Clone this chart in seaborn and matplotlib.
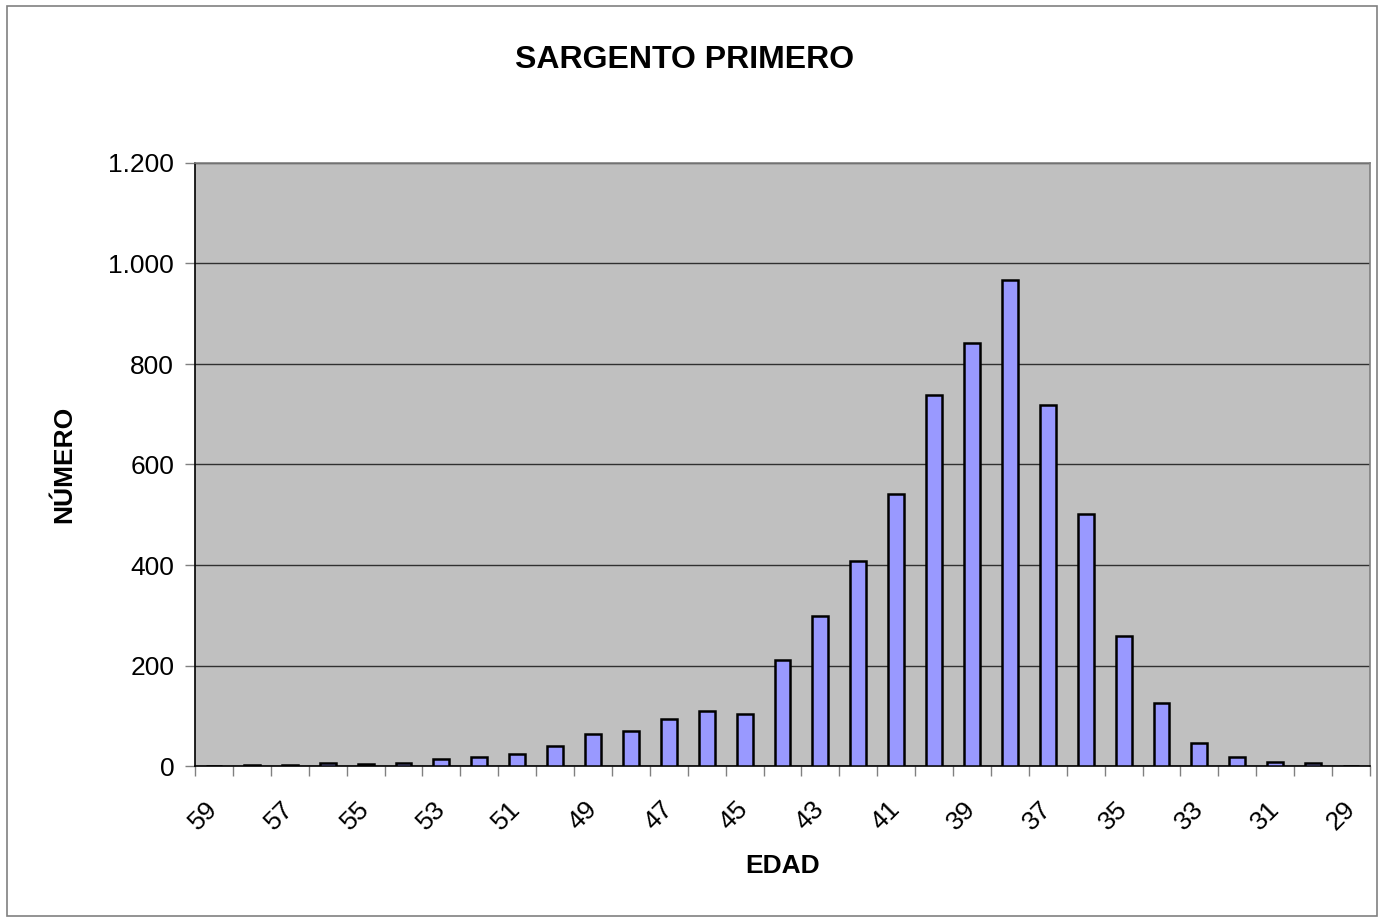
import matplotlib
matplotlib.use("Agg")
import matplotlib.pyplot as plt
import matplotlib.patches as mpatches
from matplotlib.ticker import FuncFormatter, FixedLocator
import seaborn as sns
import pandas as pd

ages = list(range(59, 28, -1))
counts = [0, 2, 2, 6, 3, 5, 14, 18, 24, 40, 64, 70, 94, 109, 103, 211,
          298, 408, 541, 738, 842, 967, 718, 501, 259, 125, 46, 18, 8, 6, 0]
title = "SARGENTO PRIMERO"
xlabel = "EDAD"
ylabel = "NÚMERO"
yticks = [0, 200, 400, 600, 800, 1000, 1200]

df = pd.DataFrame({"edad": [str(a) for a in ages], "numero": counts})

sns.set_style("white")
plt.rcParams['font.family'] = ['Liberation Sans', 'DejaVu Sans']
plt.rcParams['text.color'] = 'black'
plt.rcParams['axes.labelcolor'] = 'black'
plt.rcParams['xtick.color'] = 'black'
plt.rcParams['ytick.color'] = 'black'

fig = plt.figure(figsize=(13.81, 9.21), dpi=100)
ax = fig.add_axes([195/1381, 1 - 766/921, (1370-195)/1381, (766-163)/921])

sns.barplot(data=df, x="edad", y="numero", order=[str(a) for a in ages],
            color="#9999FF", saturation=1, edgecolor="black", linewidth=1.8,
            width=0.42, errorbar=None, ax=ax, zorder=3)

ax.set_facecolor("#C0C0C0")
ax.set_ylim(0, 1200)
ax.set_xlim(-0.5, len(ages) - 0.5)
ax.yaxis.set_major_locator(FixedLocator(yticks))
ax.yaxis.set_major_formatter(FuncFormatter(lambda v, p: f"{int(v):,}".replace(",", ".")))
ax.grid(axis="y", color="#303030", linewidth=1.0, zorder=0)
ax.set_axisbelow(True)

# x ticks: labels at odd ages only, tick marks between categories
ax.set_xticks(range(len(ages)))
ax.set_xticklabels([str(a) if a % 2 == 1 else "" for a in ages],
                   rotation=45, ha="right", va="center", rotation_mode="anchor",
                   fontsize=19, color="black")
ax.tick_params(axis="x", which="major", bottom=True, length=0, pad=28)
ax.set_xticks([i - 0.5 for i in range(len(ages) + 1)], minor=True)
ax.tick_params(axis="x", which="minor", bottom=True, length=7, width=1,
               color="#808080", direction="out")
ax.tick_params(axis="y", which="major", left=True, length=7, width=1,
               color="#808080", labelsize=19, labelcolor="black", pad=8, direction="out")

for side in ["left", "bottom"]:
    ax.spines[side].set_color("black")
    ax.spines[side].set_linewidth(1.2)
for side in ["top", "right"]:
    ax.spines[side].set_color("#808080")
    ax.spines[side].set_linewidth(1.2)

ax.set_xlabel(xlabel, fontsize=19, fontweight="bold", labelpad=14, color="black")
ax.set_ylabel(ylabel, fontsize=19, fontweight="bold", labelpad=23, color="black")
fig.text(685/1381, 1 - 60/921, title, fontsize=23, fontweight="bold",
         ha="center", va="center", color="black")

fig.patches.append(mpatches.Rectangle((7/1381, 1 - 916/921), (1377-7)/1381, (916-6)/921,
                                      transform=fig.transFigure, fill=False,
                                      edgecolor="#808080", linewidth=1.2))

fig.savefig("out.png", dpi=100)
